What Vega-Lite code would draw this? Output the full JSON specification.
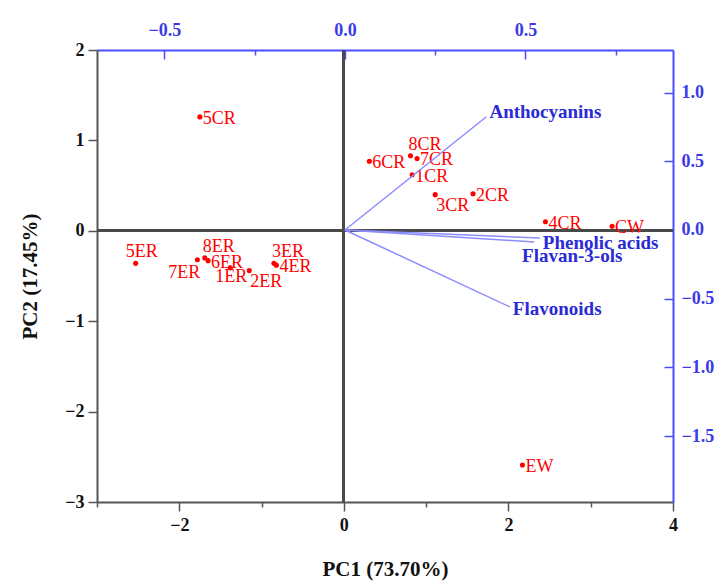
{
  "$schema": "https://vega.github.io/schema/vega-lite/v6.json",
  "width": 576,
  "height": 452,
  "autosize": {"type": "none"},
  "padding": {"left": 97, "top": 50, "right": 42, "bottom": 81},
  "background": "white",
  "config": {
    "view": {"stroke": null},
    "axis": {
      "grid": false,
      "labelFont": "Liberation Serif",
      "titleFont": "Liberation Serif",
      "labelFontWeight": "bold",
      "labelFontSize": 18,
      "titleFontSize": 21,
      "titleFontWeight": "bold",
      "labelFlush": false,
      "labelOverlap": false,
      "domainWidth": 2,
      "tickWidth": 1.5
    }
  },
  "datasets": {
    "scores": [
      {"sample": "5CR", "PC1": -1.75, "PC2": 1.26},
      {"sample": "6CR", "PC1": 0.31, "PC2": 0.77},
      {"sample": "8CR", "PC1": 0.81, "PC2": 0.83},
      {"sample": "7CR", "PC1": 0.89, "PC2": 0.8},
      {"sample": "1CR", "PC1": 0.83, "PC2": 0.62},
      {"sample": "3CR", "PC1": 1.11, "PC2": 0.4},
      {"sample": "2CR", "PC1": 1.57, "PC2": 0.41},
      {"sample": "4CR", "PC1": 2.45, "PC2": 0.1},
      {"sample": "CW", "PC1": 3.26, "PC2": 0.05},
      {"sample": "EW", "PC1": 2.17, "PC2": -2.59},
      {"sample": "5ER", "PC1": -2.53, "PC2": -0.36},
      {"sample": "7ER", "PC1": -1.78, "PC2": -0.32},
      {"sample": "8ER", "PC1": -1.69, "PC2": -0.3},
      {"sample": "6ER", "PC1": -1.65, "PC2": -0.33},
      {"sample": "1ER", "PC1": -1.38, "PC2": -0.41},
      {"sample": "2ER", "PC1": -1.15, "PC2": -0.44},
      {"sample": "3ER", "PC1": -0.85, "PC2": -0.36},
      {"sample": "4ER", "PC1": -0.82, "PC2": -0.38}
    ],
    "loadings": [
      {"variable": "Anthocyanins", "lx": 0.392, "ly": 0.824},
      {"variable": "Phenolic acids", "lx": 0.54, "ly": -0.058},
      {"variable": "Flavan-3-ols", "lx": 0.524, "ly": -0.087},
      {"variable": "Flavonoids", "lx": 0.457, "ly": -0.56}
    ]
  },
  "layer": [
    {
      "data": {"name": "scores"},
      "layer": [
        {
          "mark": {"type": "circle", "color": "#ff0000", "opacity": 1, "size": 26},
          "encoding": {
            "x": {
              "field": "PC1", "type": "quantitative",
              "scale": {"domain": [-3, 4], "nice": false, "zero": false},
              "axis": {
                "orient": "bottom",
                "title": "PC1 (73.70%)",
                "values": [-3, -2, -1, 0, 1, 2, 3, 4],
                "format": "d",
                "labelExpr": "datum.value % 2 === 0 ? datum.label : ''",
                "tickSize": {"condition": {"test": "datum.value % 2 === 0", "value": 9}, "value": 5},
                "labelPadding": 5,
                "titlePadding": 24,
                "domainColor": "#555555",
                "tickColor": "#555555",
                "labelColor": "#111111",
                "titleColor": "#111111"
              }
            },
            "y": {
              "field": "PC2", "type": "quantitative",
              "scale": {"domain": [-3, 2], "nice": false, "zero": false},
              "axis": {
                "orient": "left",
                "title": "PC2 (17.45%)",
                "values": [-3, -2.5, -2, -1.5, -1, -0.5, 0, 0.5, 1, 1.5, 2],
                "format": "d",
                "labelExpr": "datum.value % 1 === 0 ? datum.label : ''",
                "tickSize": {"condition": {"test": "datum.value % 1 === 0", "value": 9}, "value": 5},
                "labelPadding": 4,
                "titlePadding": 24,
                "domainColor": "#555555",
                "tickColor": "#555555",
                "labelColor": "#111111",
                "titleColor": "#111111"
              }
            }
          }
        },
        {
          "mark": {"type": "rule", "color": "#4a4a4a", "strokeWidth": 2},
          "encoding": {"y": {"datum": 0, "type": "quantitative"}}
        },
        {
          "mark": {"type": "rule", "color": "#4a4a4a", "strokeWidth": 2},
          "encoding": {"x": {"datum": 0, "type": "quantitative"}}
        },
        {
          "transform": [{"filter": {"field": "sample", "oneOf": ["5CR", "6CR", "7CR", "1CR", "2CR", "4CR", "CW", "EW", "6ER", "4ER"]}}],
          "mark": {"type": "text", "align": "left", "baseline": "middle", "dx": 3, "dy": 2, "font": "Liberation Serif", "fontSize": 18, "color": "#ff0000"},
          "encoding": {
            "x": {"field": "PC1", "type": "quantitative"},
            "y": {"field": "PC2", "type": "quantitative"},
            "text": {"field": "sample"}
          }
        },
        {
          "transform": [{"filter": {"field": "sample", "oneOf": ["8CR", "8ER", "3ER"]}}],
          "mark": {"type": "text", "align": "left", "baseline": "middle", "dx": -2, "dy": -11, "font": "Liberation Serif", "fontSize": 18, "color": "#ff0000"},
          "encoding": {
            "x": {"field": "PC1", "type": "quantitative"},
            "y": {"field": "PC2", "type": "quantitative"},
            "text": {"field": "sample"}
          }
        },
        {
          "transform": [{"filter": {"field": "sample", "oneOf": ["3CR", "2ER"]}}],
          "mark": {"type": "text", "align": "left", "baseline": "middle", "dx": 1, "dy": 11, "font": "Liberation Serif", "fontSize": 18, "color": "#ff0000"},
          "encoding": {
            "x": {"field": "PC1", "type": "quantitative"},
            "y": {"field": "PC2", "type": "quantitative"},
            "text": {"field": "sample"}
          }
        },
        {
          "transform": [{"filter": {"field": "sample", "oneOf": ["5ER"]}}],
          "mark": {"type": "text", "align": "center", "baseline": "middle", "dx": 6, "dy": -11, "font": "Liberation Serif", "fontSize": 18, "color": "#ff0000"},
          "encoding": {
            "x": {"field": "PC1", "type": "quantitative"},
            "y": {"field": "PC2", "type": "quantitative"},
            "text": {"field": "sample"}
          }
        },
        {
          "transform": [{"filter": {"field": "sample", "oneOf": ["1ER"]}}],
          "mark": {"type": "text", "align": "center", "baseline": "middle", "dx": 1, "dy": 9, "font": "Liberation Serif", "fontSize": 18, "color": "#ff0000"},
          "encoding": {
            "x": {"field": "PC1", "type": "quantitative"},
            "y": {"field": "PC2", "type": "quantitative"},
            "text": {"field": "sample"}
          }
        },
        {
          "transform": [{"filter": {"field": "sample", "oneOf": ["7ER"]}}],
          "mark": {"type": "text", "align": "right", "baseline": "middle", "dx": 3, "dy": 13, "font": "Liberation Serif", "fontSize": 18, "color": "#ff0000"},
          "encoding": {
            "x": {"field": "PC1", "type": "quantitative"},
            "y": {"field": "PC2", "type": "quantitative"},
            "text": {"field": "sample"}
          }
        }
      ]
    },
    {
      "data": {"name": "loadings"},
      "layer": [
        {
          "mark": {"type": "rule", "color": "#8c8cff", "strokeWidth": 1.5},
          "encoding": {
            "x": {
              "field": "lx", "type": "quantitative",
              "scale": {"domain": [-0.687, 0.909], "nice": false, "zero": false},
              "axis": {
                "orient": "top",
                "title": null,
                "values": [-0.5, -0.25, 0, 0.25, 0.5, 0.75],
                "format": ".1f",
                "labelExpr": "datum.value % 0.5 === 0 ? datum.label : ''",
                "tickSize": {"condition": {"test": "datum.value % 0.5 === 0", "value": -9}, "value": -5},
                "labelPadding": 20,
                "labelOverlap": false,
                "domainColor": "#4d4dff",
                "tickColor": "#4d4dff",
                "labelColor": "#3a3ae6"
              }
            },
            "y": {
              "field": "ly", "type": "quantitative",
              "scale": {"domain": [-1.98, 1.31], "nice": false, "zero": false},
              "axis": {
                "orient": "right",
                "title": null,
                "values": [-1.5, -1, -0.5, 0, 0.5, 1],
                "format": ".1f",
                "tickSize": -9,
                "labelPadding": 17,
                "labelOverlap": false,
                "domainColor": "#4d4dff",
                "tickColor": "#4d4dff",
                "labelColor": "#3a3ae6"
              }
            },
            "x2": {"datum": 0},
            "y2": {"datum": 0}
          }
        },
        {
          "transform": [{"filter": {"field": "variable", "oneOf": ["Anthocyanins"]}}],
          "mark": {"type": "text", "align": "left", "baseline": "middle", "dx": 3, "dy": -5, "font": "Liberation Serif", "fontWeight": "bold", "fontSize": 19, "color": "#2a2ad6"},
          "encoding": {
            "x": {"field": "lx", "type": "quantitative"},
            "y": {"field": "ly", "type": "quantitative"},
            "text": {"field": "variable"}
          }
        },
        {
          "transform": [{"filter": {"field": "variable", "oneOf": ["Phenolic acids"]}}],
          "mark": {"type": "text", "align": "left", "baseline": "middle", "dx": 3, "dy": 5, "font": "Liberation Serif", "fontWeight": "bold", "fontSize": 19, "color": "#2a2ad6"},
          "encoding": {
            "x": {"field": "lx", "type": "quantitative"},
            "y": {"field": "ly", "type": "quantitative"},
            "text": {"field": "variable"}
          }
        },
        {
          "transform": [{"filter": {"field": "variable", "oneOf": ["Flavan-3-ols"]}}],
          "mark": {"type": "text", "align": "left", "baseline": "middle", "dx": -12, "dy": 14, "font": "Liberation Serif", "fontWeight": "bold", "fontSize": 19, "color": "#2a2ad6"},
          "encoding": {
            "x": {"field": "lx", "type": "quantitative"},
            "y": {"field": "ly", "type": "quantitative"},
            "text": {"field": "variable"}
          }
        },
        {
          "transform": [{"filter": {"field": "variable", "oneOf": ["Flavonoids"]}}],
          "mark": {"type": "text", "align": "left", "baseline": "middle", "dx": 3, "dy": 2, "font": "Liberation Serif", "fontWeight": "bold", "fontSize": 19, "color": "#2a2ad6"},
          "encoding": {
            "x": {"field": "lx", "type": "quantitative"},
            "y": {"field": "ly", "type": "quantitative"},
            "text": {"field": "variable"}
          }
        }
      ]
    }
  ],
  "resolve": {
    "scale": {"x": "independent", "y": "independent"},
    "axis": {"x": "independent", "y": "independent"}
  }
}
